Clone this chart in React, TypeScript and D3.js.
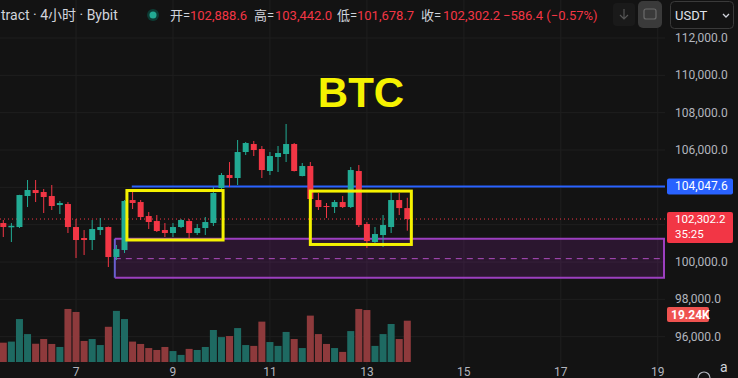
import React from "react";
import * as d3 from "d3";

// ---- data (4h candles, index 0..50) ----
const opens = [102089,101860,101875,103536,103857,103750,103536,103053,103107,101875,101286,101179,101714,101875,100268,100643,103321,103214,102464,102196,101714,101554,101875,102196,101554,101821,102089,103964,104661,104500,105893,106321,106054,104875,105625,105786,106321,104607,105143,103321,103000,102946,103214,102946,104875,102036,101071,101446,101875,103321,102888.6];
const highs = [102250,102089,103600,104393,104393,103911,104125,103268,103214,102304,101714,102250,102357,101900,100911,103321,103803,103321,102679,102518,102089,102089,102304,102304,102036,102411,104018,104768,105357,106536,106428,106482,106214,105893,106214,107393,106375,105304,105357,103696,103161,103321,103536,105089,105196,102143,101875,102518,103750,103696,103442.0];
const lows = [101339,101071,101821,102946,103214,102625,102786,102571,101554,100214,100375,100643,101446,99732,100107,100482,102839,102250,101768,101607,101339,101339,101821,101286,101446,101446,101929,103911,104018,104125,105732,105678,104500,104661,104821,105357,104850,104590,103321,102786,102357,102625,102893,102893,101875,100750,100964,100804,101554,102518,101678.7];
const closes = [101875,101940,103589,103857,103696,103482,103000,103161,101875,101179,101179,101768,101875,100268,100696,103268,103161,102411,102143,101661,101554,101875,102250,101554,101821,102143,103696,104661,104500,105893,106375,106000,104928,105678,105839,106321,104875,105143,103375,102946,102946,103214,102946,104928,101982,101125,101500,101982,103321,102890,102302.2];
const volumesK = [9.0,9.5,20.0,13.0,8.5,10.7,8.4,7.0,24.7,23.3,9.8,10.7,7.9,16.4,23.8,20.0,9.5,8.4,6.5,5.6,7.0,5.1,3.3,6.1,5.6,7.0,14.9,11.6,12.1,15.8,7.9,7.5,18.8,9.3,7.5,14.0,10.7,6.5,21.6,13.0,8.4,6.5,4.7,14.4,24.7,24.2,7.5,13.0,17.7,10.7,19.24];

const dayLabels = ["7", "9", "11", "13", "15", "17", "19"];
const dayStartIndex = [9, 21, 33, 45, 57, 69, 81];
const priceTicks = [96000, 98000, 100000, 102000, 104000, 106000, 108000, 110000, 112000];

const hLinePrice = 104047.6;
const lastPrice = 102302.2;
const zoneTop = 101250;
const zoneBottom = 99160;
const zoneMid = 100180;
const box1 = { i0: 15.3, i1: 27.2, top: 103830, bottom: 101180 };
const box2 = { i0: 38.0, i1: 50.5, top: 103800, bottom: 100940 };
const blueStartIdx = 15.9;
const zoneStartIdx = 13.8;

const header = {
  open: "102,888.6", high: "103,442.0", low: "101,678.7", close: "102,302.2", chg: "−586.4 (−0.57%)",
};

const W = 738, H = 378;
const PLOT_R = 665;
const FONT = "Roboto, 'Noto Sans CJK SC', 'Noto Sans', sans-serif";

export default function App() {
  const x = d3.scaleLinear().domain([0, 81]).range([3.3, 3.3 + 81 * 8.08]);
  const y = d3.scaleLinear().domain([96000, 112000]).range([336.7, 38]);
  const yv = d3.scaleLinear().domain([0, 40]).range([362, 362 - 85.9]);
  const up = "#22ab94", dn = "#f23645";
  const vUp = "#1e6a62", vDn = "#8e3a3c";
  const bodyW = 6;
  const fmt = d3.format(",.1f");

  // tick labels hidden behind the price labels are not drawn
  const visibleTicks = priceTicks.filter((p) => {
    const ty = y(p);
    const underBlue = Math.abs(ty - y(hLinePrice)) < 12;
    const underLast = ty > y(lastPrice) - 13 && ty < y(lastPrice) + 30;
    return !underBlue && !underLast;
  });

  return (
    <svg width={W} height={H} style={{ position: "fixed", left: 0, top: 0, background: "#131313" }}
      fontFamily={FONT}>
      <rect x={0} y={0} width={W} height={H} fill="#131313" />
      {/* grid */}
      {priceTicks.map((p) => (
        <line key={"g" + p} x1={0} x2={PLOT_R} y1={y(p)} y2={y(p)} stroke="#1f1f1f" strokeWidth={1} />
      ))}
      {dayStartIndex.map((d, k) => (
        <line key={"v" + k} x1={x(d)} x2={x(d)} y1={0} y2={366} stroke="#1f1f1f" strokeWidth={1} />
      ))}

      {/* purple zone */}
      <rect x={x(zoneStartIdx)} y={y(zoneTop)} width={PLOT_R - x(zoneStartIdx)} height={y(zoneBottom) - y(zoneTop)}
        fill="#9c27b0" fillOpacity={0.18} />
      <line x1={x(zoneStartIdx)} x2={PLOT_R} y1={y(zoneTop)} y2={y(zoneTop)} stroke="#9c3fc0" strokeWidth={2} />
      <line x1={x(zoneStartIdx)} x2={PLOT_R} y1={y(zoneBottom)} y2={y(zoneBottom)} stroke="#9c3fc0" strokeWidth={2} />
      <line x1={x(zoneStartIdx)} x2={x(zoneStartIdx)} y1={y(zoneTop)} y2={y(zoneBottom)} stroke="#6a5fd0" strokeWidth={2} />
      <line x1={PLOT_R - 1} x2={PLOT_R - 1} y1={y(zoneTop)} y2={y(zoneBottom)} stroke="#9c3fc0" strokeWidth={2} />
      <line x1={x(zoneStartIdx)} x2={PLOT_R} y1={y(zoneMid)} y2={y(zoneMid)} stroke="#b04cc0" strokeWidth={1} strokeDasharray="6,5" />

      {/* volume */}
      {volumesK.map((v, i) => (
        <rect key={"vol" + i} x={x(i) - 3.5} y={yv(v)} width={7} height={yv(0) - yv(v)}
          fill={closes[i] >= opens[i] ? vUp : vDn} />
      ))}

      {/* blue horizontal line */}
      <line x1={x(blueStartIdx)} x2={PLOT_R} y1={y(hLinePrice)} y2={y(hLinePrice)} stroke="#2962ff" strokeWidth={2} />

      {/* last price dotted line */}
      <line x1={0} x2={PLOT_R} y1={y(lastPrice)} y2={y(lastPrice)} stroke="#f23645" strokeWidth={1} strokeDasharray="1,3" />

      {/* candles */}
      {opens.map((o, i) => {
        const c = closes[i];
        const col = c >= o ? up : dn;
        const top = y(Math.max(o, c));
        const bot = y(Math.min(o, c));
        return (
          <g key={"c" + i}>
            <line x1={x(i)} x2={x(i)} y1={y(highs[i])} y2={y(lows[i])} stroke={col} strokeWidth={1} />
            <rect x={x(i) - bodyW / 2} y={top} width={bodyW} height={Math.max(1, bot - top)} fill={col} />
          </g>
        );
      })}

      {/* yellow boxes */}
      {[box1, box2].map((b, k) => (
        <rect key={"yb" + k} x={x(b.i0)} y={y(b.top)} width={x(b.i1) - x(b.i0)} height={y(b.bottom) - y(b.top)}
          fill="none" stroke="#f5f200" strokeWidth={3} />
      ))}

      {/* BTC text */}
      <text x={361} y={107} textAnchor="middle" fontFamily="'Liberation Sans', Arial, sans-serif" fontWeight="bold"
        fontSize={42} fill="#f5f200">BTC</text>

      {/* price axis */}
      <rect x={PLOT_R} y={30} width={W - PLOT_R} height={H - 30} fill="#131313" />
      {visibleTicks.map((p) => (
        <text key={"t" + p} x={675} y={y(p) + 4} fontSize={12} fill="#b2b5be">{fmt(p)}</text>
      ))}
      {/* blue label */}
      <rect x={667} y={y(hLinePrice) - 8} width={66} height={16} rx={2} fill="#2962ff" />
      <text x={675} y={y(hLinePrice) + 4} fontSize={12} fill="#ffffff">{fmt(hLinePrice)}</text>
      {/* last price label */}
      <rect x={667} y={y(lastPrice) - 7} width={66} height={31} rx={2} fill="#f23645" />
      <text x={675} y={y(lastPrice) + 4} fontSize={11.5} fill="#ffffff">{fmt(lastPrice)}</text>
      <text x={675} y={y(lastPrice) + 19} fontSize={11.5} fill="#ffffff">35:25</text>
      {/* volume label */}
      <rect x={667} y={307} width={42} height={15} rx={2} fill="#ef5350" />
      <text x={671} y={318.5} fontSize={12} fontWeight="bold" fill="#ffffff">{volumesK[50].toFixed(2) + "K"}</text>

      {/* time axis */}
      {dayLabels.map((d, k) => (
        <text key={"d" + k} x={x(dayStartIndex[k])} y={376} textAnchor="middle" fontSize={12} fill="#b2b5be">{d}</text>
      ))}
      <circle cx={704} cy={378} r={6} fill="none" stroke="#b2b5be" strokeWidth={1.2} />
      <text x={720} y={372} fontSize={14} fill="#d1d4dc">a</text>

      {/* header */}
      <text x={1} y={20} fontSize={14} fill="#d1d4dc">tract · 4小时 · Bybit</text>
      <circle cx={153} cy={15} r={6} fill="#0d3b34" />
      <circle cx={153} cy={15} r={3.5} fill="#22ab94" />
      <g fontSize={13}>
        <text x={170} y={20} fill="#d1d4dc">开=</text>
        <text x={190} y={20} fill={dn}>{header.open}</text>
        <text x={254} y={20} fill="#d1d4dc">高=</text>
        <text x={275} y={20} fill={dn}>{header.high}</text>
        <text x={337} y={20} fill="#d1d4dc">低=</text>
        <text x={357} y={20} fill={dn}>{header.low}</text>
        <text x={421} y={20} fill="#d1d4dc">收=</text>
        <text x={443} y={20} fill={dn}>{header.close}</text>
        <text x={503} y={20} fill={dn}>{header.chg}</text>
      </g>
      {/* header icons */}
      <rect x={613} y={3} width={22} height={23} rx={4} fill="#1a1a1a" />
      <path d="M624 9 v10 M620 15 l4 4 l4 -4" stroke="#555" strokeWidth={1.2} fill="none" />
      <rect x={638} y={1} width={24} height={27} rx={5} fill="#3a3a3a" />
      <rect x={644} y={9} width={12} height={10} rx={2} fill="none" stroke="#6a6a6a" strokeWidth={1.2} />
      <rect x={670.5} y={1.5} width={63} height={27} rx={4} fill="#131313" stroke="#3a3a3a" strokeWidth={1} />
      <text x={675} y={20} fontSize={13} fill="#e0e3eb">USDT</text>
      <path d="M723 14 l3 3 l3 -3" stroke="#d1d4dc" strokeWidth={1.3} fill="none" />
    </svg>
  );
}
